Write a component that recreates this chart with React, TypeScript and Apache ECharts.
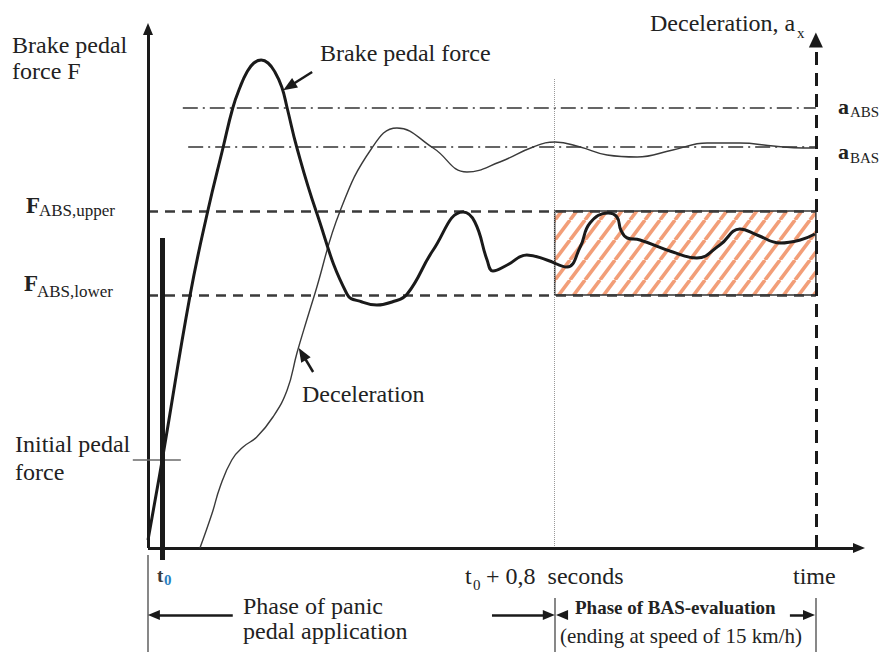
import React, { useEffect, useRef } from "react";
import * as echarts from "echarts";

// ---- Data (time in s from the origin, values in relative units) ----
const forceTime = [0, 0.029, 0.086, 0.122, 0.153, 0.173, 0.188, 0.202, 0.216, 0.231, 0.245, 0.259, 0.273, 0.284, 0.304, 0.343, 0.406, 0.437, 0.467, 0.498, 0.529, 0.582, 0.643, 0.667, 0.692, 0.704, 0.733, 0.773, 0.814, 0.855, 0.882, 0.902, 0.939, 0.957, 0.965, 0.978, 1.004, 1.071, 1.12, 1.167, 1.208, 1.243, 1.29, 1.331, 1.361];
const forceValue = [1.6, 17.6, 50.6, 67.4, 80, 88, 92.2, 95.2, 97, 97.6, 97, 95.2, 92.2, 88, 80, 67.4, 50.8, 49.2, 48.6, 49.2, 50.8, 59.6, 67.2, 65.2, 57.6, 55.4, 56.6, 58.6, 57.6, 56.2, 60.2, 65, 67, 66.2, 63.6, 62, 61.6, 59.2, 58, 60.6, 63.8, 62.6, 61, 61.6, 62.8];

const decelTime = [0.106, 0.131, 0.147, 0.171, 0.194, 0.222, 0.255, 0.284, 0.304, 0.324, 0.341, 0.392, 0.457, 0.508, 0.582, 0.651, 0.718, 0.786, 0.831, 0.882, 0.937, 0.998, 1.071, 1.141, 1.208, 1.276, 1.337, 1.361];
const decelValue = [0, 7, 12.2, 17.6, 20.2, 22.2, 26.2, 31.6, 39, 45.6, 51, 67.4, 80, 84, 80, 75.2, 77.2, 80.2, 81.2, 80.2, 78.6, 78.2, 79.6, 81, 81, 80.4, 80, 80];

const levelNames = ["aABS", "aBAS", "FupperABS", "FlowerABS", "initial"];
const levelValues = [88, 80.2, 67.4, 50.6, 17.6];

const timeMarks = [0.029, 0.83, 1.363]; // t0, t0 + 0.8 s, end of evaluation

const X_MIN = -0.2, X_MAX = 1.5, Y_MIN = -20.8, Y_MAX = 105.2;

const serif = '"Liberation Serif", "DejaVu Serif", serif';
const INK = "#1a1a1a";

function seg(x1: number, y1: number, x2: number, y2: number, arrow = false, size?: number[]) {
  const end: any = { coord: [x2, y2], symbol: arrow ? "triangle" : "none" };
  if (size) end.symbolSize = size;
  return [{ coord: [x1, y1], symbol: "none" }, end];
}

function txt(x: number, y: number, text: string, size = 24, weight = "normal", fill = "#222") {
  return {
    type: "text",
    x,
    y,
    z: 50,
    silent: true,
    style: {
      text,
      fill,
      font: `${weight} ${size}px ${serif}`,
      textAlign: "left",
      textVerticalAlign: "middle",
    },
  };
}

export default function App() {
  const ref = useRef<HTMLDivElement>(null);

  useEffect(() => {
    if (!ref.current) return;
    const chart = echarts.init(ref.current, null, { renderer: "svg" });

    const c = document.createElement("canvas");
    c.width = 15;
    c.height = 20;
    const ctx = c.getContext("2d")!;
    ctx.strokeStyle = "#F29E78";
    ctx.lineWidth = 3.6;
    for (const dx of [-15, 0, 15]) {
      ctx.beginPath();
      ctx.moveTo(dx, 20);
      ctx.lineTo(dx + 15, 0);
      ctx.stroke();
    }

    const [aABS, aBAS, fUp, fLow, fInit] = levelValues;
    const [t0, tEval, tEnd] = timeMarks;

    const helper = (name: string, z: number, markLine: any) => ({
      name,
      type: "line",
      data: [],
      z,
      silent: true,
      markLine: { silent: true, animation: false, label: { show: false }, emphasis: { disabled: true }, symbol: "none", ...markLine },
    });

    const option: any = {
      animation: false,
      backgroundColor: "#ffffff",
      grid: { left: 50, right: 1, top: 22, bottom: 0 },
      xAxis: { type: "value", min: X_MIN, max: X_MAX, show: false },
      yAxis: { type: "value", min: Y_MIN, max: Y_MAX, show: false },
      series: [
        {
          name: "hatch",
          type: "line",
          data: [],
          z: 1,
          silent: true,
          markArea: {
            silent: true,
            label: { show: false },
            itemStyle: {
              color: { image: c, repeat: "repeat", imageWidth: 15, imageHeight: 20 },
              borderColor: "#333",
              borderWidth: 1.5,
            },
            data: [[{ coord: [tEval, fLow] }, { coord: [tEnd, fUp] }]],
          },
        },
        helper("F levels", 2, {
          lineStyle: { type: [10, 7], width: 2.5, color: "#3a3a3a" },
          data: [seg(0, fUp, tEnd, fUp), seg(0, fLow, tEnd, fLow)],
        }),
        helper("a levels", 2, {
          lineStyle: { type: [15, 5, 2, 5], width: 1.7, color: "#333" },
          data: [seg(0.071, aABS, tEnd, aABS), seg(0.082, aBAS, tEnd, aBAS)],
        }),
        helper("t0+0.8", 2, {
          lineStyle: { type: "dotted", width: 1, color: "#999" },
          data: [seg(tEval, 0, tEval, 94)],
        }),
        helper("decel axis", 3, {
          symbolSize: [14, 15],
          lineStyle: { type: [13, 8], width: 3, color: INK },
          data: [seg(tEnd, 0, tEnd, 101.6, true)],
        }),
        helper("axes", 4, {
          symbolSize: [10, 12],
          lineStyle: { type: "solid", width: 3, color: INK },
          data: [seg(0, 0, 0, 103.8, true), seg(0, 0, 1.451, 0, true)],
        }),
        helper("thin", 3, {
          lineStyle: { type: "solid", width: 1.6, color: "#6a6a6a" },
          data: [
            seg(-0.031, fInit, 0.067, fInit),
            seg(0, -1.4, 0, Y_MIN),
            seg(tEval, -10, tEval, Y_MIN),
            seg(tEnd, -10, tEnd, Y_MIN),
          ],
        }),
        helper("t0", 4, {
          lineStyle: { type: "solid", width: 5, color: INK },
          data: [seg(t0, 62, t0, -2.4)],
        }),
        helper("phase arrows", 4, {
          symbolSize: [10, 12],
          lineStyle: { type: "solid", width: 2.5, color: INK },
          data: [
            seg(0.173, -13.4, 0.012, -13.4, true),
            seg(0.702, -13.4, 0.818, -13.4, true),
            seg(0.857, -13.4, 0.845, -13.4, true),
            seg(1.31, -13.4, 1.349, -13.4, true),
          ],
        }),
        helper("pointers", 6, {
          symbolSize: [11, 14],
          lineStyle: { type: "solid", width: 2.5, color: INK },
          data: [seg(0.335, 95.2, 0.288, 92.3, true), seg(0.337, 35.2, 0.315, 38.8, true)],
        }),
        {
          name: "Deceleration",
          type: "line",
          z: 5,
          smooth: 0.45,
          showSymbol: false,
          symbol: "none",
          silent: true,
          lineStyle: { color: "#3a3a3a", width: 1.4 },
          data: decelTime.map((t, i) => [t, decelValue[i]]),
        },
        {
          name: "Brake pedal force",
          type: "line",
          z: 6,
          smooth: 0.45,
          showSymbol: false,
          symbol: "none",
          silent: true,
          lineStyle: { color: INK, width: 3 },
          data: forceTime.map((t, i) => [t, forceValue[i]]),
        },
      ],
      graphic: [
        txt(12, 45, "Brake pedal"),
        txt(12, 71, "force F"),
        txt(320, 53, "Brake pedal force"),
        txt(650, 23, "Deceleration, a"),
        txt(797, 33, "x", 15),
        txt(838, 106, "a", 22, "bold"),
        txt(850, 112, "ABS", 15),
        txt(838, 151, "a", 22, "bold"),
        txt(850, 158, "BAS", 15),
        txt(26, 205, "F", 23, "bold"),
        txt(39, 210, "ABS,upper", 17),
        txt(24, 283, "F", 23, "bold"),
        txt(37, 291, "ABS,lower", 17),
        txt(302, 394, "Deceleration"),
        txt(15, 444, "Initial pedal"),
        txt(15, 472, "force"),
        txt(157, 575, "t", 19, "bold", "#3b3b3b"),
        txt(164, 580, "0", 15, "bold", "#2a7fc0"),
        txt(465, 576, "t"),
        txt(473, 585, "0", 15),
        txt(486, 576, "+ 0,8  seconds"),
        txt(793, 576, "time"),
        txt(243, 606, "Phase of panic"),
        txt(243, 631, "pedal application"),
        txt(575, 607, "Phase of BAS-evaluation", 19, "bold"),
        txt(560, 636, "(ending at speed of 15 km/h)", 21),
      ],
    };

    chart.setOption(option);
    return () => chart.dispose();
  }, []);

  return <div ref={ref} style={{ position: "fixed", left: 0, top: 0, width: 884, height: 652 }} />;
}
